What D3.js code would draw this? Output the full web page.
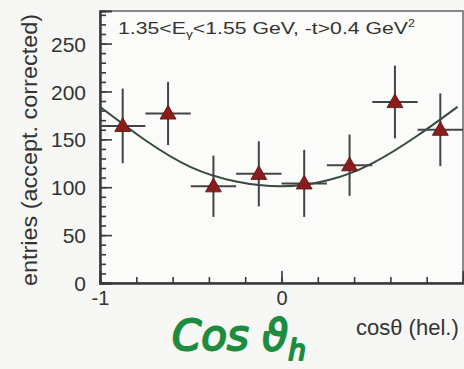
<!DOCTYPE html>
<html>
<head>
<meta charset="utf-8">
<script src="https://cdn.jsdelivr.net/npm/d3@7"></script>
<style>
  html, body { margin: 0; padding: 0; background: #f7f7f5; }
  svg { display: block; font-family: "Liberation Sans", Arial, sans-serif; }
</style>
</head>
<body>
<svg id="chart" width="464" height="369"></svg>
<script>
// bin centres in cos(theta) and the measured entries
const cosBins = [-0.875, -0.625, -0.375, -0.125, 0.125, 0.375, 0.625, 0.875];
const entries = [164, 177, 101, 114, 104, 123, 189, 160];
const errors = [39, 33, 32, 34, 35, 32, 38, 38];
const binHalf = 0.125;

// fit curve
const fitX = [-1, -0.75, -0.5, -0.25, 0, 0.25, 0.5, 0.75, 0.97];
const fitY = [184, 149, 121, 106, 101, 107, 125, 154, 184];

const yTicks = [0, 50, 100, 150, 200, 250];
const xTicks = [-1, 0];

const svg = d3.select("#chart");
const margin = { top: 11, left: 100, right: 463, bottom: 283 };

const x = d3.scaleLinear().domain([-1, 1]).range([margin.left, margin.right]);
const y = d3.scaleLinear().domain([0, 284]).range([margin.bottom, margin.top]);

const ink = "#3a3a3a";

// frame
svg.append("rect")
  .attr("x", margin.left).attr("y", margin.top)
  .attr("width", margin.right - margin.left)
  .attr("height", margin.bottom - margin.top)
  .attr("fill", "#fbfbf9").attr("stroke", "#666").attr("stroke-width", 1.5);

// y axis, ticks pointing inside
const yMinor = svg.append("g").attr("transform", `translate(${margin.left},0)`)
  .call(d3.axisLeft(y).tickValues(d3.range(0, 281, 10)).tickSize(-6).tickFormat(""));
const yMajor = svg.append("g").attr("transform", `translate(${margin.left},0)`)
  .call(d3.axisLeft(y).tickValues(yTicks).tickSize(-12).tickPadding(14));
[yMinor, yMajor].forEach((g) => {
  g.select(".domain").attr("stroke", ink).attr("stroke-width", 2);
  g.selectAll(".tick line").attr("stroke", ink).attr("stroke-width", 1.6);
});
yMajor.selectAll(".tick text").attr("font-size", 21).attr("fill", "#333").attr("dy", "0.36em");

// x axis
const xMinor = svg.append("g").attr("transform", `translate(0,${margin.bottom})`)
  .call(d3.axisBottom(x).tickValues(d3.range(-0.8, 1, 0.2)).tickSize(-6).tickFormat(""));
const xMajor = svg.append("g").attr("transform", `translate(0,${margin.bottom})`)
  .call(d3.axisBottom(x).tickValues(xTicks).tickSize(-12).tickPadding(4).tickFormat((d) => String(d)));
[xMinor, xMajor].forEach((g) => {
  g.select(".domain").attr("stroke", ink).attr("stroke-width", 2);
  g.selectAll(".tick line").attr("stroke", ink).attr("stroke-width", 1.6);
});
xMajor.selectAll(".tick text").attr("font-size", 20).attr("fill", "#333").attr("dy", "0.9em");

// fit curve
const fitLine = d3.line()
  .x((d) => x(d[0]))
  .y((d) => y(d[1]))
  .curve(d3.curveNatural);
svg.append("path")
  .datum(d3.zip(fitX, fitY))
  .attr("d", fitLine)
  .attr("fill", "none")
  .attr("stroke", "#354a40")
  .attr("stroke-width", 2);

// error bars
const pts = cosBins.map((c, i) => ({ c, v: entries[i], e: errors[i] }));
svg.selectAll(".ex").data(pts).join("line")
  .attr("x1", (d) => x(d.c - binHalf)).attr("x2", (d) => x(d.c + binHalf))
  .attr("y1", (d) => y(d.v)).attr("y2", (d) => y(d.v))
  .attr("stroke", "#444").attr("stroke-width", 2);
svg.selectAll(".ey").data(pts).join("line")
  .attr("x1", (d) => x(d.c)).attr("x2", (d) => x(d.c))
  .attr("y1", (d) => y(d.v + d.e)).attr("y2", (d) => y(d.v - d.e))
  .attr("stroke", "#444").attr("stroke-width", 2);

// triangle markers
svg.selectAll(".mk").data(pts).join("path")
  .attr("transform", (d) => `translate(${x(d.c)},${y(d.v) + 1})`)
  .attr("d", d3.symbol(d3.symbolTriangle, 110))
  .attr("fill", "#8a1c1c")
  .attr("stroke", "#5a1010").attr("stroke-width", 0.8);

// caption inside frame
const cap = svg.append("text")
  .attr("x", 118).attr("y", 34)
  .attr("font-size", 17).attr("fill", "#333")
  .attr("textLength", 297).attr("lengthAdjust", "spacingAndGlyphs");
cap.append("tspan").text("1.35<E");
cap.append("tspan").attr("font-size", 11).attr("dy", 4).text("γ");
cap.append("tspan").attr("dy", -4).text("<1.55 GeV, -t>0.4 GeV");
cap.append("tspan").attr("font-size", 10).attr("dy", -7).text("2");

// axis titles
svg.append("text")
  .attr("transform", "translate(37,150) rotate(-90)")
  .attr("text-anchor", "middle")
  .attr("font-size", 22).attr("fill", "#333")
  .attr("textLength", 272).attr("lengthAdjust", "spacingAndGlyphs")
  .text("entries (accept. corrected)");

svg.append("text")
  .attr("x", 356).attr("y", 335)
  .attr("font-size", 22).attr("fill", "#333")
  .text("cosθ (hel.)");

// handwritten note
const note = svg.append("text")
  .attr("x", 172).attr("y", 350)
  .attr("font-family", "DejaVu Sans")
  .attr("font-size", 42).attr("font-style", "italic")
  .attr("fill", "#1e8c40").attr("stroke", "#1e8c40").attr("stroke-width", 2)
  .attr("stroke-linejoin", "round");
note.append("tspan").text("Cos ϑ");
note.append("tspan").attr("font-size", 28).attr("dy", 10).text("h");
</script>
</body>
</html>
